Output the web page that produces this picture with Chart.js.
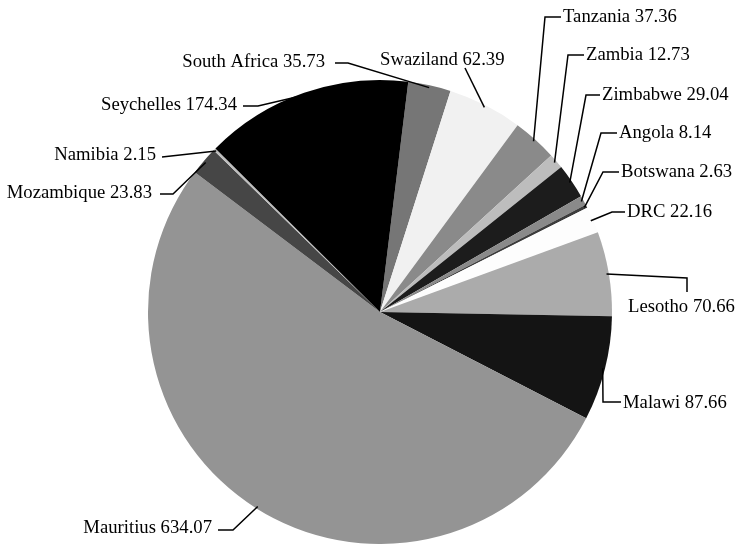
<!DOCTYPE html>
<html>
<head>
<meta charset="utf-8">
<script src="https://cdn.jsdelivr.net/npm/chart.js@4/dist/chart.umd.min.js"></script>
<style>
  html, body { margin: 0; padding: 0; background: #fff; }
  #wrap { width: 737px; height: 544px; }
</style>
</head>
<body>
<div id="wrap"><canvas id="c" width="737" height="544"></canvas></div>
<script>
// Slices run clockwise, starting just right of 12 o'clock
const countries = ['South Africa', 'Swaziland', 'Tanzania', 'Zambia', 'Zimbabwe', 'Angola', 'Botswana',
                   'DRC', 'Lesotho', 'Malawi', 'Mauritius', 'Mozambique', 'Namibia', 'Seychelles'];
const values = [35.73, 62.39, 37.36, 12.73, 29.04, 8.14, 2.63,
                22.16, 70.66, 87.66, 634.07, 23.83, 2.15, 174.34];
const sliceColors = ['#767676', '#f1f1f1', '#8a8a8a', '#bdbdbd', '#1c1c1c', '#8a8a8a', '#3c3c3c',
                     '#fdfdfd', '#ababab', '#141414', '#949494', '#464646', '#bebebe', '#000000'];

// Where each callout's text sits and how its leader line bends on the way there
const calloutLayout = [
  { x: 325, y: 62,  align: 'right', bends: [[348, 63], [335, 63]] },
  { x: 380, y: 60,  align: 'left',  bends: [[465, 68]] },
  { x: 563, y: 17,  align: 'left',  bends: [[545, 17], [561, 17]] },
  { x: 586, y: 55,  align: 'left',  bends: [[568, 55], [584, 55]] },
  { x: 602, y: 95,  align: 'left',  bends: [[586, 95], [600, 95]] },
  { x: 619, y: 133, align: 'left',  bends: [[601, 133], [617, 133]] },
  { x: 621, y: 172, align: 'left',  bends: [[603, 172], [619, 172]] },
  { x: 627, y: 212, align: 'left',  bends: [[612, 212], [625, 212]] },
  { x: 628, y: 307, align: 'left',  bends: [[687, 278], [687, 292]] },
  { x: 623, y: 403, align: 'left',  bends: [[603, 402], [621, 402]] },
  { x: 212, y: 528, align: 'right', bends: [[233, 530], [218, 530]] },
  { x: 152, y: 193, align: 'right', bends: [[173, 194], [160, 194]] },
  { x: 156, y: 155, align: 'right', bends: [[162, 157]] },
  { x: 237, y: 105, align: 'right', bends: [[258, 106], [243, 106]] }
];

const calloutPlugin = {
  id: 'callouts',
  afterDatasetsDraw(chart) {
    const ctx = chart.ctx;
    const meta = chart.getDatasetMeta(0);
    ctx.save();
    ctx.strokeStyle = '#000';
    ctx.lineWidth = 1.5;
    ctx.fillStyle = '#000';
    ctx.font = '18.7px "Liberation Serif", "Times New Roman", serif';
    ctx.textBaseline = 'middle';
    meta.data.forEach((arc, i) => {
      const p = arc.getProps(['x', 'y', 'startAngle', 'endAngle', 'outerRadius'], true);
      const mid = (p.startAngle + p.endAngle) / 2;
      const r = p.outerRadius * 0.99;
      const ax = p.x + Math.cos(mid) * r;
      const ay = p.y + Math.sin(mid) * r;
      const c = calloutLayout[i];
      ctx.beginPath();
      ctx.moveTo(ax, ay);
      c.bends.forEach(([bx, by]) => ctx.lineTo(bx, by));
      ctx.stroke();
      ctx.textAlign = c.align;
      ctx.fillText(countries[i] + ' ' + values[i].toFixed(2), c.x, c.y);
    });
    ctx.restore();
  }
};

new Chart(document.getElementById('c'), {
  type: 'pie',
  data: {
    labels: countries,
    datasets: [{
      data: values,
      backgroundColor: sliceColors,
      borderWidth: 0
    }]
  },
  options: {
    responsive: false,
    animation: false,
    rotation: 7,
    layout: { padding: { left: 148, right: 125, top: 80, bottom: 0 } },
    plugins: {
      legend: { display: false },
      tooltip: { enabled: false }
    }
  },
  plugins: [calloutPlugin]
});
</script>
</body>
</html>
